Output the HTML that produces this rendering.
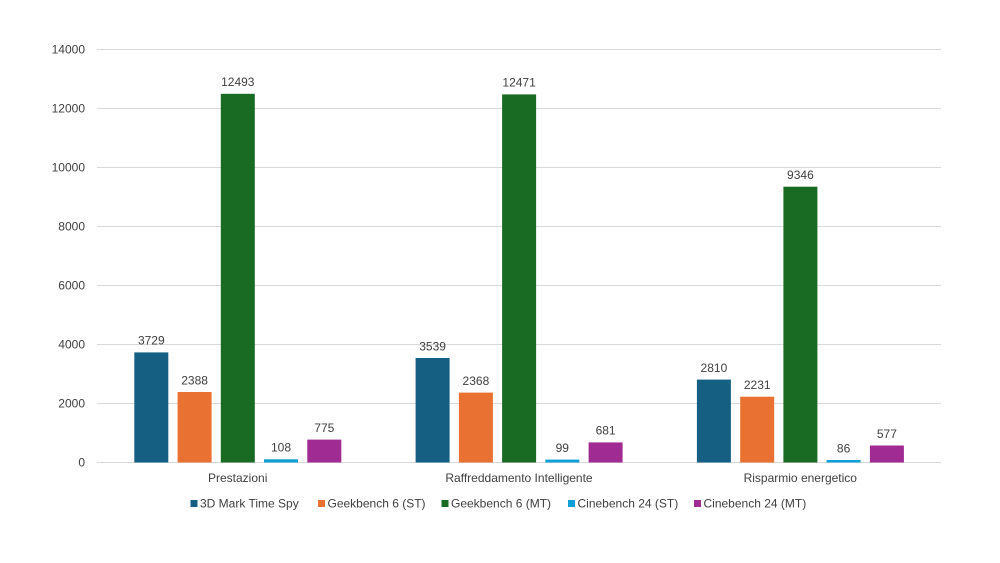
<!DOCTYPE html>
<html><head><meta charset="utf-8"><style>
html,body{margin:0;padding:0;background:#fff;}
svg{display:block;}
text{font-family:"Liberation Sans",Arial,sans-serif;fill:#404040;}
</style></head><body>
<svg width="1000" height="563" viewBox="0 0 1000 563" xmlns="http://www.w3.org/2000/svg">
<rect width="1000" height="563" fill="#fff"/>
<g stroke="#d9d9d9" stroke-width="1">
<line x1="97" x2="941" y1="49.5" y2="49.5"/>
<line x1="97" x2="941" y1="108.5" y2="108.5"/>
<line x1="97" x2="941" y1="167.5" y2="167.5"/>
<line x1="97" x2="941" y1="226.5" y2="226.5"/>
<line x1="97" x2="941" y1="285.5" y2="285.5"/>
<line x1="97" x2="941" y1="344.5" y2="344.5"/>
<line x1="97" x2="941" y1="403.5" y2="403.5"/>
<line x1="97" x2="941" y1="462.5" y2="462.5"/>
</g>
<g font-size="12" text-anchor="end">
<text x="85" y="53.5">14000</text>
<text x="85" y="112.5">12000</text>
<text x="85" y="171.5">10000</text>
<text x="85" y="230.5">8000</text>
<text x="85" y="289.5">6000</text>
<text x="85" y="348.5">4000</text>
<text x="85" y="407.5">2000</text>
<text x="85" y="466.5">0</text>
</g>
<!-- Group 1 center 237.7 -->
<g>
<rect x="134.3" y="352.4" width="34" height="110.1" fill="#156082"/>
<rect x="177.6" y="392.0" width="34" height="70.5" fill="#E97132"/>
<rect x="220.8" y="93.8" width="34" height="368.7" fill="#196B24"/>
<rect x="264.0" y="459.3" width="34" height="3.2" fill="#0F9ED5"/>
<rect x="307.3" y="439.6" width="34" height="22.9" fill="#A02B93"/>
</g>
<g>
<rect x="415.6" y="358.0" width="34" height="104.5" fill="#156082"/>
<rect x="458.9" y="392.6" width="34" height="69.9" fill="#E97132"/>
<rect x="502.1" y="94.4" width="34" height="368.1" fill="#196B24"/>
<rect x="545.3" y="459.6" width="34" height="2.9" fill="#0F9ED5"/>
<rect x="588.6" y="442.4" width="34" height="20.1" fill="#A02B93"/>
</g>
<g>
<rect x="696.9" y="379.6" width="34" height="82.9" fill="#156082"/>
<rect x="740.2" y="396.7" width="34" height="65.8" fill="#E97132"/>
<rect x="783.4" y="186.7" width="34" height="275.8" fill="#196B24"/>
<rect x="826.6" y="460.0" width="34" height="2.5" fill="#0F9ED5"/>
<rect x="869.9" y="445.5" width="34" height="17.0" fill="#A02B93"/>
</g>
<g font-size="12" text-anchor="middle">
<text x="151.3" y="344.7">3729</text>
<text x="194.6" y="384.3">2388</text>
<text x="237.8" y="86.1">12493</text>
<text x="281.0" y="451.6">108</text>
<text x="324.3" y="431.9">775</text>

<text x="432.6" y="350.3">3539</text>
<text x="475.9" y="384.9">2368</text>
<text x="519.1" y="86.7">12471</text>
<text x="562.3" y="451.9">99</text>
<text x="605.6" y="434.7">681</text>

<text x="713.9" y="371.9">2810</text>
<text x="757.2" y="389.0">2231</text>
<text x="800.4" y="179.0">9346</text>
<text x="843.6" y="452.3">86</text>
<text x="886.9" y="437.8">577</text>
</g>
<g font-size="12" text-anchor="middle">
<text x="237.7" y="482">Prestazioni</text>
<text x="519" y="482">Raffreddamento Intelligente</text>
<text x="800.3" y="482">Risparmio energetico</text>
</g>
<g font-size="12">
<rect x="190.5" y="500" width="7" height="7" fill="#156082"/>
<text x="200" y="507.5">3D Mark Time Spy</text>
<rect x="318" y="500" width="7" height="7" fill="#E97132"/>
<text x="327.5" y="507.5">Geekbench 6 (ST)</text>
<rect x="441.5" y="500" width="7" height="7" fill="#196B24"/>
<text x="451" y="507.5">Geekbench 6 (MT)</text>
<rect x="568" y="500" width="7" height="7" fill="#0F9ED5"/>
<text x="577.5" y="507.5">Cinebench 24 (ST)</text>
<rect x="694" y="500" width="7" height="7" fill="#A02B93"/>
<text x="703.5" y="507.5">Cinebench 24 (MT)</text>
</g>
</svg>
</body></html>
